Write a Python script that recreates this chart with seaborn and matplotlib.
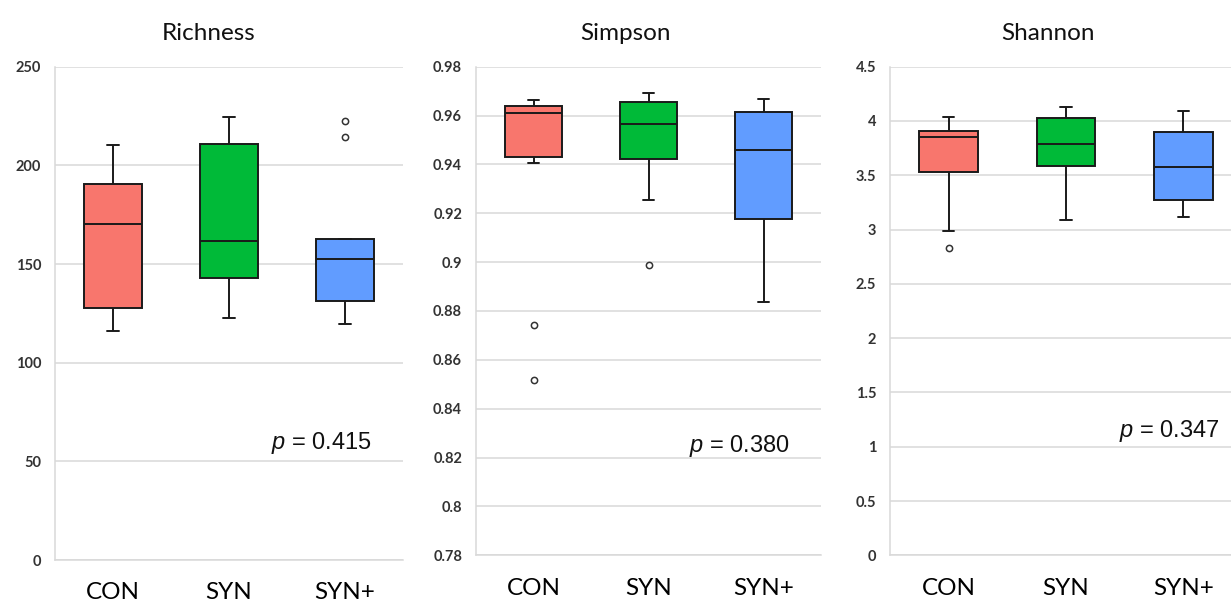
import matplotlib
matplotlib.use('Agg')
import matplotlib.pyplot as plt
from matplotlib.ticker import MultipleLocator, FuncFormatter
import seaborn as sns
import pandas as pd

# groups and colours
groups = ['CON', 'SYN', 'SYN+']
box_colors = ['#F8766D', '#00BA38', '#619CFF']

# values (13 samples per group)
richness_con = [116.2, 119, 123, 127.6, 140, 158, 170.5, 176, 184, 190.7, 196, 203, 210.3]
richness_syn = [122.5, 131, 138, 142.9, 148, 155, 161.8, 175, 195, 210.8, 215, 220, 224.4]
richness_synp = [119.6, 124, 128, 131.3, 140, 147, 152.6, 156, 160, 162.5, 162.5, 214.4, 222.7]

simpson_con = [0.8516, 0.8741, 0.9406, 0.9430, 0.9500, 0.9580, 0.9612, 0.9620, 0.9630, 0.9639, 0.9650, 0.9658, 0.9664]
simpson_syn = [0.8990, 0.9256, 0.9350, 0.9423, 0.9480, 0.9520, 0.9564, 0.9600, 0.9630, 0.9656, 0.9670, 0.9685, 0.9694]
simpson_synp = [0.8836, 0.8950, 0.9080, 0.9178, 0.9280, 0.9380, 0.9458, 0.9520, 0.9580, 0.9615, 0.9640, 0.9655, 0.9668]

shannon_con = [2.833, 2.986, 3.300, 3.530, 3.700, 3.800, 3.855, 3.870, 3.890, 3.907, 3.950, 4.000, 4.033]
shannon_syn = [3.088, 3.300, 3.450, 3.582, 3.650, 3.720, 3.787, 3.850, 3.950, 4.030, 4.070, 4.100, 4.131]
shannon_synp = [3.112, 3.180, 3.230, 3.272, 3.400, 3.500, 3.578, 3.700, 3.800, 3.895, 3.950, 4.020, 4.088]

titles = ['Richness', 'Simpson', 'Shannon']
p_values = ['0.415', '0.380', '0.347']
y_limits = [(0, 250), (0.78, 0.98), (0, 4.5)]
y_steps = [50, 0.02, 0.5]


def long_df(a, b, c):
    return pd.DataFrame({
        'group': ['CON'] * len(a) + ['SYN'] * len(b) + ['SYN+'] * len(c),
        'value': a + b + c,
    })


frames = [
    long_df(richness_con, richness_syn, richness_synp),
    long_df(simpson_con, simpson_syn, simpson_synp),
    long_df(shannon_con, shannon_syn, shannon_synp),
]

sns.set_style('white')
plt.rcParams['font.family'] = ['Lato', 'DejaVu Sans']
plt.rcParams['mathtext.fontset'] = 'custom'
plt.rcParams['mathtext.it'] = 'Liberation Sans:italic'
plt.rcParams['mathtext.rm'] = 'Liberation Sans'

W, H = 1231, 601
fig = plt.figure(figsize=(W / 100, H / 100), dpi=100)

# axes boxes in pixels: left, top, right, bottom
panels = [(55, 66.7, 403, 560), (476, 66.7, 821, 555.3), (890, 66.7, 1242, 555.3)]
title_x = [209, 625, 1048]
# p text anchor (right edge x, baseline y) in data coords
p_pos = [(2.233, 56.3), (2.230, 0.8224), (2.309, 1.0866)]

grid_c = '#D9D9D9'

for i, df in enumerate(frames):
    l, t, r, b = panels[i]
    ax = fig.add_axes([l / W, 1 - b / H, (r - l) / W, (b - t) / H])
    sns.boxplot(data=df, x='group', y='value', hue='group', order=groups,
                palette=box_colors, saturation=1, legend=False, width=0.5, whis=1.5,
                linecolor='#1a1a1a', linewidth=1.4, ax=ax, capwidths=0.095,
                flierprops=dict(marker='o', markersize=4.5, markerfacecolor='none',
                                markeredgecolor='#333333', markeredgewidth=1.1))
    ax.set_xlim(-0.5, 2.5)
    ax.set_ylim(*y_limits[i])
    ax.yaxis.set_major_locator(MultipleLocator(y_steps[i]))
    ax.yaxis.set_major_formatter(FuncFormatter(lambda v, pos: '%g' % round(v, 4)))
    ax.grid(axis='y', color=grid_c, linewidth=1.1)
    ax.set_axisbelow(True)
    for s in ['top', 'right']:
        ax.spines[s].set_visible(False)
    for s in ['left', 'bottom']:
        ax.spines[s].set_color(grid_c)
        ax.spines[s].set_linewidth(1.1)
    ax.tick_params(axis='y', length=0, pad=10, labelsize=10.5, labelcolor='#333333')
    for lab in ax.get_yticklabels():
        lab.set_fontweight('bold')
    ax.tick_params(axis='x', length=0, pad=16, labelsize=17.5, labelcolor='black')
    ax.set_xlabel('')
    ax.set_ylabel('')

    ax.text(p_pos[i][0], p_pos[i][1], '$p$ = ' + p_values[i], ha='right', va='baseline',
            fontsize=17, family=['Liberation Sans', 'DejaVu Sans'], color='#111111')

    fig.text(title_x[i] / W, 1 - 40 / H, titles[i], ha='center', va='baseline',
             fontsize=17.5, color='#111111')

fig.savefig('out.png', dpi=100, facecolor='white')
